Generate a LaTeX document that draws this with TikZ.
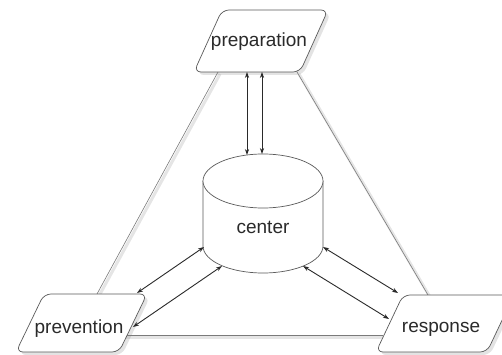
\documentclass[tikz,border=0pt]{standalone}
\usepackage{fontspec}
\setmainfont{Liberation Sans}
\usetikzlibrary{arrows.meta,shadows}
\definecolor{edgecol}{HTML}{5A5A5A}
\definecolor{tricol}{HTML}{7A7A7A}
\definecolor{ink}{HTML}{2A2A2A}
\begin{document}
\begin{tikzpicture}[x=1pt,y=-1pt,
  para/.style={draw=edgecol, fill=white, line width=0.7pt, rounded corners=7pt,
    drop shadow={shadow xshift=3pt, shadow yshift=-3pt, opacity=0.22}},
  lbl/.style={text=ink, font=\fontsize{19}{22}\selectfont, inner sep=0pt, anchor=base},
  triline/.style={draw=tricol, line width=0.6pt},
  lineshade/.style={draw=black, opacity=0.10, line width=3pt},
  dbl/.style={draw=ink, line width=0.9pt,
    {Stealth[length=6pt,width=4.2pt]}-{Stealth[length=6pt,width=4.2pt]}},
  cyl/.style={draw=edgecol, fill=white, line width=0.7pt}
]
\useasboundingbox (0,0) rectangle (502,355);
\fill[white] (0,0) rectangle (502,355);

% triangle connectors
\coordinate (pL) at (218,72);
\coordinate (vT) at (97,294);
\coordinate (pR) at (297,72);
\coordinate (rT) at (428,295);
\coordinate (vR) at (124,335);
\coordinate (rL) at (383,335);
\draw[lineshade] ([shift={(2,2)}]pL) -- ([shift={(2,2)}]vT);
\draw[lineshade] ([shift={(2,2)}]pR) -- ([shift={(2,2)}]rT);
\draw[lineshade] ([shift={(0,2.5)}]vR) -- ([shift={(0,2.5)}]rL);
\draw[triline] (pL) -- (vT);
\draw[triline] (pR) -- (rT);
\draw[triline] (vR) -- (rL);

% parallelograms
\draw[para] (275,10) -- (328,10) -- (300,72) -- (194,72) -- (222,10) -- cycle;
\draw[para] (95,294) -- (147,294) -- (119,352) -- (16,352) -- (44,294) -- cycle;
\draw[para] (460,295) -- (514,295) -- (487,352) -- (376,352) -- (403,295) -- cycle;

% cylinder
\draw[cyl] (203,181) -- (203,246) arc[start angle=180, end angle=0, x radius=60, y radius=27] -- (323,181);
\draw[cyl] (263,181) ellipse [x radius=60, y radius=27];

% labels
\node[lbl] (prep) at (259,47) {preparation};
\node[lbl] (prev) at (79,333) {prevention};
\node[lbl] (resp) at (441,332) {response};
\node[lbl] (cent) at (263,233) {center};

% connector end points
\coordinate (p1) at (247,72);
\coordinate (c1) at (247,155);
\coordinate (p2) at (262,72);
\coordinate (c2) at (262,154);
\coordinate (cl1) at (204,247);
\coordinate (v1) at (137,293);
\coordinate (cl2) at (222,266);
\coordinate (v2) at (133,327);
\coordinate (cr1) at (323,247);
\coordinate (r1) at (398,293);
\coordinate (cr2) at (303,266);
\coordinate (r2) at (389,319);

\draw[dbl] (p1) -- (c1);
\draw[dbl] (p2) -- (c2);
\draw[dbl] (cl1) -- (v1);
\draw[dbl] (cl2) -- (v2);
\draw[dbl] (cr1) -- (r1);
\draw[dbl] (cr2) -- (r2);
\end{tikzpicture}
\end{document}
